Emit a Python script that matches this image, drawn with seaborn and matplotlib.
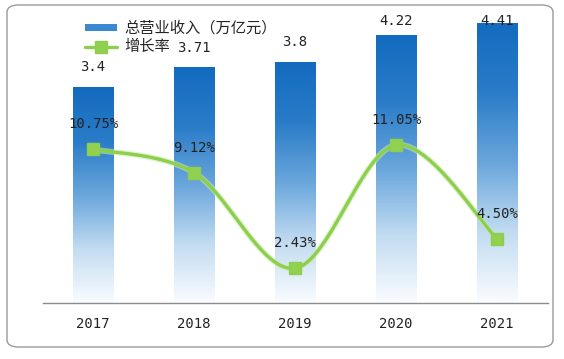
import numpy as np
import pandas as pd
import matplotlib
matplotlib.use('Agg')
import matplotlib.pyplot as plt
import seaborn as sns
from matplotlib.colors import LinearSegmentedColormap
from matplotlib.patches import FancyBboxPatch, Patch
from matplotlib.lines import Line2D

# data
years = ['2017', '2018', '2019', '2020', '2021']
revenue = [3.4, 3.71, 3.8, 4.22, 4.41]          # 总营业收入（万亿元）
growth = [10.75, 9.12, 2.43, 11.05, 4.50]       # 增长率 %
revenue_labels = ['3.4', '3.71', '3.8', '4.22', '4.41']
growth_labels = ['10.75%', '9.12%', '2.43%', '11.05%', '4.50%']


def smooth_curve(xs, ys, n=40):
    """
        Excel style smoothed line (bezier through the points), only for drawing
    """
    pts = np.column_stack([xs, ys]).astype(float)
    padded = np.vstack([pts[0], pts, pts[-1]])
    out = []
    t = np.linspace(0, 1, n)[:, None]
    for i in range(1, len(padded) - 2):
        p0, p1, p2, p3 = padded[i - 1], padded[i], padded[i + 1], padded[i + 2]
        c1 = p1 + (p2 - p0) / 6
        c2 = p2 - (p3 - p1) / 6
        seg = ((1 - t) ** 3) * p1 + 3 * ((1 - t) ** 2) * t * c1 + 3 * (1 - t) * t ** 2 * c2 + t ** 3 * p2
        out.append(seg)
    curve = np.vstack(out)
    return curve[:, 0], curve[:, 1]


sns.set_style('white')
plt.rcParams['font.family'] = ['Noto Sans CJK SC', 'DejaVu Sans']

fig = plt.figure(figsize=(5.64, 3.59), dpi=100)
ax = fig.add_axes([42.5 / 564, 56 / 359, 505 / 564, 296 / 359])

df = pd.DataFrame({'year': years, 'revenue': revenue})
sns.barplot(data=df, x='year', y='revenue', width=0.4, color='#1a72c2', ax=ax, zorder=2)

# gradient fill for the bars: deep blue on top fading to white
cmap = LinearSegmentedColormap.from_list('bar', ['#fafcff', '#c2dcf1', '#6aa6dc', '#2a7cc8', '#136bbf'])
grad = np.linspace(0, 1, 256).reshape(-1, 1)
for p in ax.patches:
    x0, y0, w, h = p.get_x(), p.get_y(), p.get_width(), p.get_height()
    im = ax.imshow(grad, extent=[x0, x0 + w, y0, y0 + h], origin='lower', cmap=cmap,
                   aspect='auto', zorder=2)
    im.set_clip_path(p)
    p.set_facecolor('none')
    p.set_edgecolor('none')

ax.set_xlim(-0.5, 4.5)
ax.set_ylim(0, 4.66)
for i, v in enumerate(revenue):
    ax.text(i, min(v + 0.31, 4.44), revenue_labels[i], ha='center', va='center', fontsize=10,
            family='DejaVu Sans Mono', color='#222222', zorder=5)

# axis styling
for s in ['top', 'right', 'left']:
    ax.spines[s].set_visible(False)
ax.spines['bottom'].set_color('#8c8c8c')
ax.spines['bottom'].set_linewidth(1)
ax.set_yticks([])
ax.set_xlabel('')
ax.set_ylabel('')
ax.set_xticks(range(len(years)))
ax.set_xticklabels(years, fontsize=10, family='DejaVu Sans Mono', color='#222222')
ax.tick_params(axis='x', which='major', length=0, pad=10)
ax.set_xticks(np.arange(-0.5, 5, 1), minor=True)
ax.tick_params(axis='x', which='minor', length=4, color='#8c8c8c', direction='out')

# growth rate line on a second axis
ax2 = ax.twinx()
ax2.set_ylim(0, 20.7)
xs = np.arange(len(years))
cx, cy = smooth_curve(xs, growth)
ax2.plot(cx, cy, color='#c9eaa8', lw=4.2, alpha=0.6, zorder=3, solid_capstyle='round')
ax2.plot(cx, cy, color='#8ccf4d', lw=2.4, zorder=3, solid_capstyle='round')
ax2.plot(xs, growth, 's', color='#92d050', markersize=9, markeredgecolor='#8ccf4d', zorder=4)
for i, v in enumerate(growth):
    ax2.text(i, v + 1.75, growth_labels[i], ha='center', va='center', fontsize=10,
             family='DejaVu Sans Mono', color='#222222', zorder=5)
ax2.set_yticks([])
for s in ax2.spines.values():
    s.set_visible(False)

# legend
handles = [Patch(facecolor='#3a88d0', edgecolor='none'),
           Line2D([0], [0], color='#8ccf4d', lw=2.4, marker='s', markersize=8,
                  markerfacecolor='#92d050', markeredgecolor='#8ccf4d')]
leg = fig.legend(handles, ['总营业收入（万亿元）', '增长率'], loc='upper left',
                 bbox_to_anchor=(77 / 564, 1 - 12 / 359), frameon=False, fontsize=11,
                 handlelength=2.1, handleheight=0.35, labelspacing=0.1, borderpad=0,
                 handletextpad=0.5)

# rounded outer frame
frame = FancyBboxPatch((7 / 564, 12 / 359), 546 / 564, 342 / 359,
                       boxstyle='round,pad=0,rounding_size=0.02', transform=fig.transFigure,
                       facecolor='none', edgecolor='#9a9a9a', lw=1.0, zorder=0)
fig.patches.append(frame)

fig.savefig('out.png', dpi=100)
